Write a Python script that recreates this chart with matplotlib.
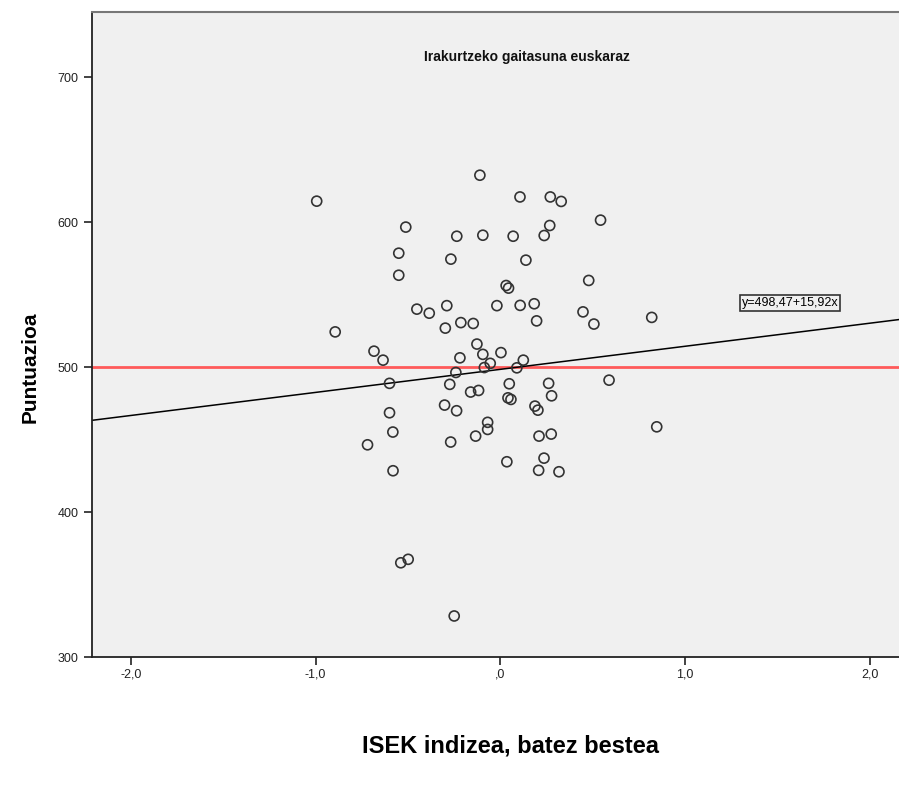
import numpy as np
import matplotlib
matplotlib.use("Agg")
import matplotlib.pyplot as plt
from matplotlib.ticker import FuncFormatter

plt.rcParams["font.family"] = ["Liberation Sans", "DejaVu Sans"]

# ISEK index vs reading score
isek = [
    -0.994, -0.111, -0.512, -0.236, -0.095, -0.550, -0.268, -0.550, -0.452, -0.385,
    -0.290, -0.298, -0.214, -0.147, -0.894, -0.019, 0.106, 0.270, 0.329, 0.542,
    0.069, 0.267, 0.237, 0.138, 0.478, 0.031, 0.044, 0.107, 0.183, 0.447,
    0.196, 0.506, -0.127, -0.684, -0.635, -0.219, -0.095, 0.003, -0.055, -0.087,
    0.124, 0.089, -0.241, -0.600, -0.274, 0.048, 0.261, 0.588, -0.161, -0.118,
    0.277, 0.041, 0.057, -0.302, -0.237, -0.600, 0.187, 0.203, -0.069, -0.069,
    0.846, -0.582, -0.134, 0.209, 0.275, -0.719, -0.269, 0.236, 0.035, -0.581,
    0.207, 0.317, -0.539, -0.499, -0.250, 0.819,
]
puntuazioa = [
    614.5, 632.4, 596.6, 590.3, 591.0, 578.6, 574.5, 563.4, 540.0, 537.2,
    542.4, 526.9, 530.7, 530.1, 524.3, 542.4, 617.4, 617.4, 614.3, 601.4,
    590.3, 597.7, 590.8, 573.8, 559.8, 556.3, 554.5, 542.6, 543.7, 538.1,
    531.9, 529.7, 515.9, 511.0, 504.8, 506.4, 508.8, 510.0, 502.6, 499.7,
    504.8, 499.5, 496.3, 488.8, 488.1, 488.5, 488.8, 491.0, 482.8, 483.9,
    480.2, 478.8, 477.7, 473.8, 469.9, 468.5, 473.1, 470.3, 461.9, 457.0,
    458.8, 455.2, 452.4, 452.4, 453.8, 446.4, 448.3, 437.2, 434.7, 428.5,
    428.8, 427.8, 365.0, 367.4, 328.3, 534.3,
]

intercept = 498.47
slope = 15.92
reference = 500

xmin, xmax = -2.21, 2.157
ymin, ymax = 300, 745

fig = plt.figure(figsize=(8.99, 7.90), dpi=100)
ax = fig.add_axes([92 / 899, 1 - 657 / 790, 1 - 92 / 899, (657 - 12) / 790])
ax.set_facecolor("#f0f0f0")

ax.scatter(isek, puntuazioa, s=52, facecolors="none", edgecolors="#333333",
           linewidths=1.2, zorder=3)

ax.axhline(reference, color="#ff5a5a", lw=2, zorder=2)

xs = np.array([xmin, xmax])
ax.plot(xs, intercept + slope * xs, color="black", lw=1.1, zorder=2)

ax.text(1.568, 544.1, "y=498,47+15,92x", fontsize=9, ha="center", va="center",
        bbox=dict(boxstyle="square,pad=0.15", fc="#f0f0f0", ec="#333333", lw=1.2),
        zorder=4)

# chart title sits inside the plot area
ax.text(0.539, 1 - 45 / 645, "Irakurtzeko gaitasuna euskaraz", transform=ax.transAxes,
        fontsize=10, fontweight="bold", ha="center", va="center", color="#111111")

ax.set_xlim(xmin, xmax)
ax.set_ylim(ymin, ymax)
ax.set_xticks([-2, -1, 0, 1, 2])
ax.set_yticks([300, 400, 500, 600, 700])


def comma_fmt(v, pos):
    s = f"{v:.1f}".replace(".", ",")
    if s.startswith("0,"):
        s = s[1:]
    return s


ax.xaxis.set_major_formatter(FuncFormatter(comma_fmt))
ax.tick_params(axis="both", direction="out", length=6, width=1.2, labelsize=9,
               colors="#222222")
ax.tick_params(axis="x", pad=2)

for side in ["left", "bottom"]:
    ax.spines[side].set_color("#222222")
    ax.spines[side].set_linewidth(1.3)
ax.spines["top"].set_color("#777777")
ax.spines["top"].set_linewidth(1.5)
ax.spines["right"].set_visible(False)

fig.text(30 / 899, 1 - 367 / 790, "Puntuazioa", rotation=90, fontsize=15,
         fontweight="bold", ha="center", va="center")
fig.text(510 / 899, 1 - 746 / 790, "ISEK indizea, batez bestea", fontsize=17,
         fontweight="bold", ha="center", va="center")

fig.savefig("out.png", dpi=100)
